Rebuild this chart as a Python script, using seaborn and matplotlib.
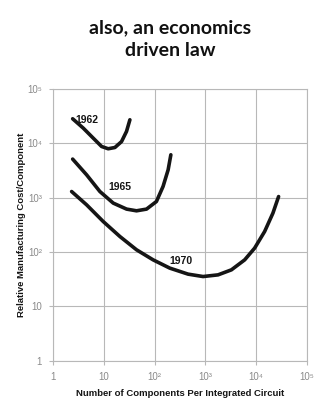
import matplotlib.pyplot as plt
import seaborn as sns
import pandas as pd

# values (components per IC, relative cost per component)
x_1962 = [2.41, 3.90, 6.13, 8.97, 12.1, 16.4, 22.2, 27.8, 32.4]
y_1962 = [2.84e4, 1.91e4, 1.25e4, 8.77e3, 7.96e3, 8.4e3, 1.08e4, 1.66e4, 2.72e4]

x_1965 = [2.41, 4.54, 8.30, 15.2, 27.9, 43.8, 69, 108, 146, 184, 208]
y_1965 = [5.14e3, 2.64e3, 1.30e3, 796, 617, 574, 617, 851, 1.61e3, 3.27e3, 6.17e3]

x_1970 = [2.30, 4.54, 9.64, 20.6, 43.8, 93, 198, 454, 898, 1770, 3250,
          5940, 9330, 1.47e4, 2.14e4, 2.77e4]
y_1970 = [1.30e3, 740, 365, 193, 110, 71.8, 50.6, 39.2, 35.4, 38.0, 47.0,
          71.8, 118, 239, 520, 1.05e3]

years = ["1962", "1965", "1970"]
label_pos = {"1962": (2.75, 2.72e4), "1965": (12.1, 1.55e3), "1970": (192, 69.7)}

tick_vals = [1, 10, 100, 1e3, 1e4, 1e5]
tick_text = ["1", "10", "10²", "10³", "10⁴", "10⁵"]

df = pd.concat([
    pd.DataFrame({"components": x_1962, "cost": y_1962, "year": "1962"}),
    pd.DataFrame({"components": x_1965, "cost": y_1965, "year": "1965"}),
    pd.DataFrame({"components": x_1970, "cost": y_1970, "year": "1970"}),
])

sns.set_theme(style="whitegrid")
plt.rcParams["font.family"] = ["Liberation Sans", "DejaVu Sans"]

fig = plt.figure(figsize=(3.19, 4.03), dpi=100)
ax = fig.add_axes([0.167, 0.105, 0.795, 0.674])

for yr in years:
    sub = df[df["year"] == yr]
    sns.lineplot(data=sub, x="components", y="cost", ax=ax, color="#151515",
                 linewidth=2.6, sort=False, estimator=None,
                 solid_capstyle="round", legend=False)
    lx, ly = label_pos[yr]
    ax.text(lx, ly, yr, fontsize=7.5, fontweight="bold", color="#151515",
            ha="left", va="center")

ax.set_xscale("log")
ax.set_yscale("log")
ax.set_xlim(1, 1e5)
ax.set_ylim(1, 1e5)
ax.set_xticks(tick_vals)
ax.set_xticklabels(tick_text)
ax.set_yticks(tick_vals)
ax.set_yticklabels(tick_text)
ax.minorticks_off()

ax.grid(True, color="#b8b8b8", linewidth=0.8)
for s in ax.spines.values():
    s.set_color("#b8b8b8")
    s.set_linewidth(0.8)
ax.tick_params(axis="both", which="major", labelsize=7, labelcolor="#8a8a8a",
               color="#b8b8b8", length=3, width=0.8, direction="out",
               bottom=True, left=True, pad=5)

ax.set_xlabel("Number of Components Per Integrated Circuit", fontsize=6.8,
              fontweight="bold", color="#151515", labelpad=5)
ax.set_ylabel("Relative Manufacturing Cost/Component", fontsize=6.8,
              fontweight="bold", color="#151515", labelpad=1)

fig.text(0.533, 0.903, "also, an economics\ndriven law", ha="center", va="center",
         fontsize=14, fontweight="bold", family=["Lato", "DejaVu Sans"],
         color="#111111", linespacing=1.4)

fig.savefig("out.png", dpi=100)
